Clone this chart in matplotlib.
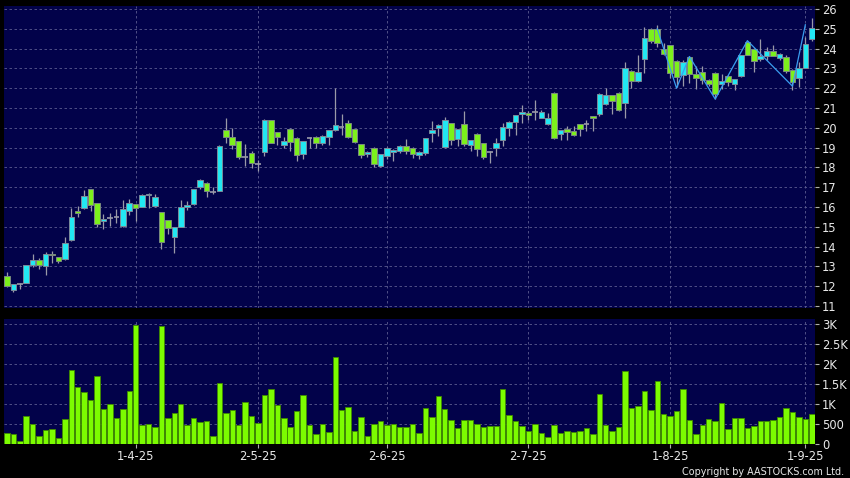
import numpy as np
import matplotlib
matplotlib.use("Agg")
import matplotlib.pyplot as plt

# daily candles (open, high, low, close)
opens = [12.50, 11.82, 12.12, 12.15, 13.07, 13.33, 13.00, 13.63, 13.50, 13.36,
         14.33, 15.78, 15.93, 16.89, 16.19, 15.30, 15.45, 15.50, 15.05, 15.81,
         16.14, 15.98, 16.59, 16.07, 15.73, 15.34, 14.50, 15.00, 16.00, 16.14,
         16.99, 17.23, 16.77, 16.81, 19.89, 19.52, 19.33, 18.54, 18.71, 18.17,
         18.79, 20.39, 19.77, 19.12, 19.95, 19.50, 18.68, 19.50, 19.55, 19.22,
         19.52, 19.87, 20.06, 20.23, 19.92, 19.17, 18.68, 19.00, 18.07, 18.56,
         18.80, 18.81, 19.07, 19.00, 18.63, 18.71, 19.72, 20.00, 19.01, 20.23,
         19.45, 20.19, 19.12, 19.69, 19.22, 18.80, 18.96, 19.38, 20.00, 20.31,
         20.70, 20.76, 20.80, 20.51, 20.18, 21.77, 19.67, 19.95, 19.84, 20.18,
         20.21, 20.58, 20.68, 21.19, 21.65, 21.77, 21.27, 22.88, 22.36, 23.46,
         24.97, 24.97, 24.00, 24.18, 23.39, 22.67, 23.59, 22.72, 22.83, 22.41,
         22.75, 22.20, 22.62, 22.21, 22.62, 24.35, 24.00, 23.46, 23.63, 23.89,
         23.51, 23.59, 22.92, 22.50, 23.00, 24.47]
highs = [12.73, 12.10, 12.18, 13.07, 13.62, 13.45, 13.75, 13.80, 13.50, 14.50,
         15.93, 16.05, 16.86, 16.89, 16.19, 15.65, 15.68, 15.90, 16.35, 16.40,
         16.15, 16.65, 16.70, 16.67, 15.75, 15.34, 15.00, 16.35, 16.30, 16.90,
         17.40, 17.25, 17.00, 19.15, 20.51, 19.97, 19.35, 19.17, 18.83, 18.37,
         20.45, 20.40, 19.80, 19.55, 19.98, 19.55, 19.35, 19.52, 19.60, 19.62,
         19.90, 22.00, 20.70, 20.40, 19.95, 19.20, 18.85, 19.05, 18.70, 19.05,
         18.95, 19.15, 19.43, 19.02, 18.85, 19.50, 20.33, 20.20, 20.53, 20.25,
         19.95, 20.85, 19.40, 19.75, 19.25, 18.82, 19.50, 20.23, 20.35, 20.67,
         21.15, 20.85, 21.40, 20.90, 20.77, 21.80, 19.90, 20.10, 20.10, 20.20,
         20.40, 20.60, 21.75, 22.00, 21.68, 21.80, 23.31, 22.90, 23.68, 25.10,
         25.05, 25.20, 24.30, 24.20, 23.40, 23.40, 23.62, 23.10, 23.10, 22.45,
         22.80, 22.70, 22.65, 22.45, 23.70, 24.40, 24.02, 24.47, 24.10, 24.20,
         23.80, 23.70, 22.95, 23.30, 24.60, 25.53]
lows = [11.95, 11.69, 11.87, 12.15, 12.95, 12.85, 12.57, 13.15, 13.15, 13.30,
        14.30, 15.50, 15.90, 15.81, 14.97, 14.88, 15.06, 15.20, 15.00, 15.60,
        15.30, 15.98, 15.95, 16.02, 13.86, 14.62, 13.70, 15.00, 15.85, 16.10,
        16.93, 16.49, 16.65, 16.80, 19.25, 18.93, 18.42, 18.05, 17.96, 17.83,
        18.60, 19.25, 19.13, 19.00, 18.84, 18.34, 18.40, 18.96, 18.97, 19.15,
        19.13, 19.85, 19.64, 19.50, 19.25, 18.48, 18.50, 18.04, 18.04, 18.43,
        18.30, 18.75, 18.70, 18.45, 18.40, 18.65, 19.30, 19.60, 19.00, 19.13,
        19.07, 19.10, 18.83, 18.60, 18.40, 18.24, 18.60, 19.10, 19.60, 19.64,
        20.25, 20.40, 20.39, 20.50, 20.15, 19.45, 19.40, 19.40, 19.60, 19.60,
        19.85, 19.85, 20.60, 21.15, 20.70, 20.85, 20.48, 22.00, 22.30, 22.75,
        24.30, 24.10, 23.70, 22.50, 22.05, 22.10, 22.25, 21.98, 22.20, 22.10,
        21.44, 21.98, 22.10, 21.90, 22.55, 23.68, 22.80, 23.35, 23.40, 23.60,
        23.40, 22.75, 21.90, 22.05, 23.00, 24.40]
closes = [12.00, 12.10, 12.12, 13.07, 13.30, 13.05, 13.65, 13.57, 13.27, 14.17,
          15.48, 15.70, 16.54, 16.10, 15.13, 15.38, 15.45, 15.50, 15.90, 16.19,
          15.93, 16.59, 16.68, 16.50, 14.22, 14.92, 14.97, 15.98, 16.08, 16.89,
          17.36, 16.81, 16.77, 19.08, 19.52, 19.12, 18.54, 18.54, 18.21, 18.17,
          20.39, 19.25, 19.52, 19.32, 19.27, 18.61, 19.32, 19.50, 19.22, 19.59,
          19.87, 20.13, 20.06, 19.55, 19.30, 18.61, 18.78, 18.16, 18.66, 19.00,
          18.86, 19.08, 18.84, 18.68, 18.76, 19.47, 19.89, 20.14, 20.39, 19.38,
          19.92, 19.17, 19.38, 18.91, 18.51, 18.80, 19.23, 20.06, 20.31, 20.65,
          20.78, 20.63, 20.80, 20.78, 20.48, 19.47, 19.87, 19.80, 19.65, 19.95,
          20.21, 20.50, 21.69, 21.65, 21.35, 20.88, 23.00, 22.36, 22.80, 24.52,
          24.38, 24.30, 23.73, 22.78, 22.55, 23.34, 22.72, 22.50, 22.41, 22.21,
          21.69, 22.38, 22.33, 22.45, 23.68, 23.68, 23.39, 23.63, 23.89, 23.63,
          23.73, 22.88, 22.33, 23.00, 24.23, 25.03]
volume = [268, 250, 75, 690, 510, 190, 350, 385, 160, 630,
          1860, 1425, 1307, 1090, 1700, 863, 990, 662, 870, 1330,
          2975, 486, 511, 419, 2950, 654, 763, 1005, 470, 662,
          545, 587, 210, 1525, 763, 855, 486, 1048, 695, 520,
          1215, 1366, 964, 645, 427, 813, 1223, 478, 243, 511,
          302, 2187, 846, 930, 327, 670, 210, 494, 578, 478,
          511, 419, 436, 494, 285, 900, 680, 1200, 865, 600,
          390, 600, 600, 500, 416, 450, 450, 1366, 716, 575,
          450, 333, 491, 267, 175, 475, 283, 333, 300, 325,
          391, 250, 1250, 466, 325, 416, 1824, 891, 950, 1333,
          850, 1583, 741, 708, 833, 1366, 591, 250, 475, 616,
          583, 1033, 375, 641, 650, 408, 458, 575, 575, 591,
          675, 900, 791, 675, 633, 750]

# zigzag overlay (bar index, price)
zz_idx = [101, 104, 106, 110, 115, 122, 124]
zz_val = [25.0, 22.0, 23.6, 21.45, 24.4, 22.1, 25.2]

date_idx = [20, 39, 59, 81, 103, 124]
date_lbl = ["1-4-25", "2-5-25", "2-6-25", "2-7-25", "1-8-25", "1-9-25"]

BG = "#02024a"
GRID = "#5c5c90"
UP, DOWN, FLAT = "#22e8f2", "#7cf01c", "#9a9aa8"
TXT = "#e8e8e8"

o, h, l, c = map(np.array, (opens, highs, lows, closes))
x = np.arange(len(o))

fig = plt.figure(figsize=(8.5, 4.78), dpi=100, facecolor="black")
axP = fig.add_axes([4 / 850, 1 - 308 / 478, 811 / 850, 302 / 478])
axV = fig.add_axes([4 / 850, 1 - 444 / 478, 811 / 850, 125 / 478], sharex=axP)

for ax in (axP, axV):
    ax.set_facecolor(BG)
    for s in ax.spines.values():
        s.set_visible(False)
    ax.yaxis.tick_right()
    ax.tick_params(axis="y", colors="#b0b0b0", labelcolor=TXT, labelsize=8.3,
                   length=3, width=0.8, pad=2)
    ax.grid(True, color=GRID, ls=(0, (3, 3)), lw=0.6)
    ax.set_axisbelow(True)
    ax.set_xticks(date_idx)

# candles
axP.vlines(x, l, h, color=FLAT, lw=0.9, zorder=2)
doji = o == c
up = (c > o)
dn = (c < o)
axP.bar(x[up], (c - o)[up], bottom=o[up], width=0.86, color=UP,
        edgecolor="#7a8a99", lw=0.7, zorder=3)
axP.bar(x[dn], (o - c)[dn], bottom=c[dn], width=0.86, color=DOWN,
        edgecolor="#7a8a80", lw=0.7, zorder=3)
axP.hlines(o[doji], x[doji] - 0.43, x[doji] + 0.43, color=FLAT, lw=1.2, zorder=3)
axP.plot(zz_idx, zz_val, color="#3a9ef0", lw=0.9, zorder=4)

axP.set_ylim(10.9, 26.15)
axP.set_yticks(range(11, 27))
axP.tick_params(axis="x", length=0, labelbottom=False)
axP.set_xlim(-0.45, len(o) - 0.5)

# volume
axV.bar(x, volume, width=0.85, color="#7cfc00", edgecolor="#3f8a00", lw=0.6, zorder=3)
axV.set_ylim(0, 3125)
axV.set_yticks([0, 500, 1000, 1500, 2000, 2500, 3000])
axV.set_yticklabels(["0", "500", "1K", "1.5K", "2K", "2.5K", "3K"])
axV.set_xticklabels(date_lbl)
axV.tick_params(axis="x", colors="#b0b0b0", labelcolor=TXT, labelsize=8.3,
                length=3, width=0.8, pad=1.5)

fig.text(0.993, 0.003, "Copyright by AASTOCKS.com Ltd.", color=TXT,
         fontsize=6.9, ha="right", va="bottom")

fig.savefig("out.png", dpi=100, facecolor="black")
